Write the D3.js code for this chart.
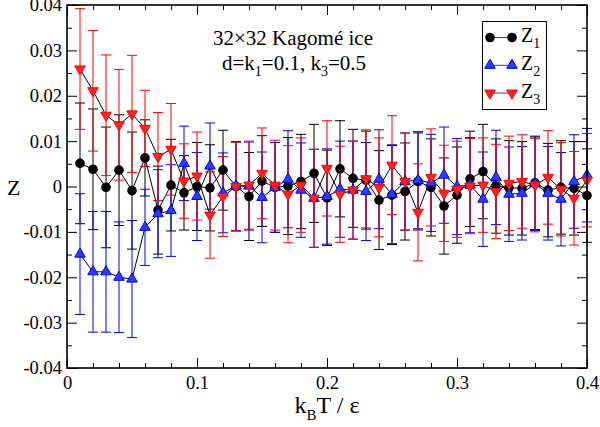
<!DOCTYPE html>
<html><head><meta charset="utf-8">
<script src="https://cdn.jsdelivr.net/npm/d3@7"></script>
<style>
body{margin:0;background:#fff}
svg{display:block}
svg text{font-family:'Liberation Serif','Times New Roman',Times,'DejaVu Serif',serif !important;fill:#000}
</style>
</head><body>
<svg id="c" width="600" height="427" font-family="Liberation Serif"></svg>
<script>
// ---- data ----
const temps = [0.01,0.02,0.03,0.04,0.05,0.06,0.07,0.08,0.09,0.10,
               0.11,0.12,0.13,0.14,0.15,0.16,0.17,0.18,0.19,0.20,
               0.21,0.22,0.23,0.24,0.25,0.26,0.27,0.28,0.29,0.30,
               0.31,0.32,0.33,0.34,0.35,0.36,0.37,0.38,0.39,0.40];
const z1 = [0.0051,0.0038,-0.0002,0.0036,-0.0009,0.0063,-0.0052,0.0003,-0.0014,0.0000,
            -0.0003,0.0036,0.0000,-0.0022,0.0012,-0.0002,0.0001,0.0011,0.0029,-0.0025,
            0.0039,0.0018,0.0014,-0.0030,-0.0019,-0.0011,0.0011,-0.0002,-0.0043,-0.0019,
            0.0017,0.0033,0.0001,-0.0003,-0.0004,0.0008,-0.0008,-0.0002,-0.0004,-0.0020];
const z2 = [-0.0149,-0.0188,-0.0188,-0.0200,-0.0204,-0.0090,-0.0060,-0.0053,0.0051,-0.0022,
            0.0045,-0.0014,0.0001,0.0001,-0.0024,-0.0002,0.0016,-0.0008,-0.0026,-0.0022,
            -0.0006,-0.0008,-0.0011,0.0016,-0.0017,0.0011,0.0014,0.0008,0.0025,0.0000,
            0.0003,-0.0028,0.0020,-0.0017,-0.0015,0.0006,-0.0015,-0.0028,0.0011,0.0025];
const z3 = [0.0259,0.0211,0.0157,0.0136,0.0160,0.0128,0.0066,0.0082,0.0012,0.0023,
            -0.0063,-0.0022,0.0000,0.0003,0.0029,0.0003,-0.0017,0.0003,-0.0026,0.0040,
            -0.0017,-0.0008,0.0017,-0.0002,0.0047,0.0011,-0.0057,0.0020,-0.0015,-0.0006,
            0.0001,0.0003,-0.0011,0.0007,0.0011,0.0003,0.0020,-0.0006,-0.0026,0.0014];
const zErr = [0.0133,0.0133,0.0133,0.0122,0.0129,0.0084,0.0097,0.0101,0.0082,0.0097,
              0.0095,0.0088,0.0098,0.0097,0.0100,0.0099,0.0107,0.0104,0.0108,0.0105,
              0.0106,0.0108,0.0108,0.0109,0.0109,0.0107,0.0107,0.0107,0.0106,0.0106,
              0.0105,0.0104,0.0104,0.0104,0.0103,0.0103,0.0103,0.0103,0.0103,0.0103];
const xTicks = [0,0.1,0.2,0.3,0.4];
const xMinor = [0.02,0.04,0.06,0.08,0.12,0.14,0.16,0.18,0.22,0.24,0.26,0.28,0.32,0.34,0.36,0.38];
const yTicks = [-0.04,-0.03,-0.02,-0.01,0,0.01,0.02,0.03,0.04];
const yMinor = [-0.035,-0.025,-0.015,-0.005,0.005,0.015,0.025,0.035];

const seriesList = [
  {name:"1", vals:z1, err:zErr, color:"#000000", fill:"#000000", marker:"circle"},
  {name:"2", vals:z2, err:zErr, color:"#0000ff", fill:"#2a3cff", marker:"up"},
  {name:"3", vals:z3, err:zErr, color:"#ff0000", fill:"#ff2222", marker:"down"}
];

// ---- layout ----
const FONT = "Liberation Serif";
const L=67, R=587, T=5, B=368;
const svg = d3.select("#c");
const x = d3.scaleLinear().domain([0,0.4]).range([L,R]);
const y = d3.scaleLinear().domain([-0.04,0.04]).range([B,T]);

// axes (inward ticks on all sides)
const fx = d => d===0 ? "0" : d.toFixed(1);
const fy = d => Math.abs(d)<1e-9 ? "0" : d.toFixed(2);
function addAxis(gen, tr){
  const g = svg.append("g").attr("transform",tr).call(gen).attr("font-family",FONT);
  g.select(".domain").remove();
  g.selectAll("line").attr("stroke","#000").attr("stroke-width",1);
  return g;
}
const xb = addAxis(d3.axisBottom(x).tickValues(xTicks).tickSize(-10).tickPadding(8).tickFormat(fx), `translate(0,${B})`);
xb.selectAll("text").attr("font-size",18.5).attr("font-family",FONT);
addAxis(d3.axisBottom(x).tickValues(xMinor).tickSize(-5).tickFormat(""), `translate(0,${B})`);
addAxis(d3.axisTop(x).tickValues(xTicks).tickSize(-10).tickFormat(""), `translate(0,${T})`);
addAxis(d3.axisTop(x).tickValues(xMinor).tickSize(-5).tickFormat(""), `translate(0,${T})`);
const yl = addAxis(d3.axisLeft(y).tickValues(yTicks).tickSize(-10).tickPadding(5).tickFormat(fy), `translate(${L},0)`);
yl.selectAll("text").attr("font-size",18.5).attr("font-family",FONT);
addAxis(d3.axisLeft(y).tickValues(yMinor).tickSize(-5).tickFormat(""), `translate(${L},0)`);
addAxis(d3.axisRight(y).tickValues(yTicks).tickSize(-10).tickFormat(""), `translate(${R},0)`);
addAxis(d3.axisRight(y).tickValues(yMinor).tickSize(-5).tickFormat(""), `translate(${R},0)`);

// error bars
const cap = 5;
seriesList.forEach(s=>{
  const g = svg.append("g").attr("stroke",s.color).attr("stroke-width",1).attr("fill","none");
  temps.forEach((t,i)=>{
    const xp = x(t), y1 = y(s.vals[i]+s.err[i]), y0 = y(s.vals[i]-s.err[i]);
    g.append("line").attr("x1",xp).attr("x2",xp).attr("y1",y1).attr("y2",y0);
    g.append("line").attr("x1",xp-cap).attr("x2",xp+cap).attr("y1",y1).attr("y2",y1);
    g.append("line").attr("x1",xp-cap).attr("x2",xp+cap).attr("y1",y0).attr("y2",y0);
  });
});

// connecting lines
const line = d3.line().x((d,i)=>x(temps[i])).y(d=>y(d));
seriesList.forEach(s=>{
  svg.append("path").attr("d",line(s.vals)).attr("fill","none").attr("stroke","#000").attr("stroke-width",1);
});

// markers
const triUp = d3.symbol().type(d3.symbolTriangle).size(48);
function drawMarker(g, type, cx, cy, s){
  if(type==="circle"){
    g.append("circle").attr("cx",cx).attr("cy",cy).attr("r",4.8).attr("fill",s.fill);
  } else {
    g.append("path").attr("d",triUp())
      .attr("transform",`translate(${cx},${cy})${type==="down"?" rotate(180)":""}`)
      .attr("fill",s.fill).attr("stroke",s.color).attr("stroke-width",1);
  }
}
seriesList.forEach(s=>{
  const g = svg.append("g");
  temps.forEach((t,i)=> drawMarker(g, s.marker, x(t), y(s.vals[i]), s));
});

// frame
svg.append("rect").attr("x",L).attr("y",T).attr("width",R-L).attr("height",B-T)
  .attr("fill","none").attr("stroke","#000").attr("stroke-width",1.6);

// axis labels
svg.append("text").attr("x",7).attr("y",195).attr("font-size",22).attr("font-family",FONT).text("Z");
const xl = svg.append("text").attr("x",x(0.2)).attr("y",412.5).attr("text-anchor","middle").attr("font-size",24).attr("font-family",FONT);
xl.append("tspan").text("k");
xl.append("tspan").attr("font-size",15).attr("dy",7).text("B");
xl.append("tspan").attr("dy",-7).text("T / ε");

// annotation
svg.append("text").attr("x",293).attr("y",45).attr("text-anchor","middle").attr("font-size",21).attr("font-family",FONT).text("32×32 Kagomé ice");
const an = svg.append("text").attr("x",294).attr("y",70).attr("text-anchor","middle").attr("font-size",21).attr("font-family",FONT);
an.append("tspan").text("d=k");
an.append("tspan").attr("font-size",14).attr("dy",6).text("1");
an.append("tspan").attr("dy",-6).text("=0.1, k");
an.append("tspan").attr("font-size",14).attr("dy",6).text("3");
an.append("tspan").attr("dy",-6).text("=0.5");

// legend
svg.append("rect").attr("x",482.5).attr("y",21.5).attr("width",64).attr("height",88)
  .attr("fill","#fff").attr("stroke","#000").attr("stroke-width",1);
seriesList.forEach((s,k)=>{
  const cy = 37.5 + k*27.8;
  const g = svg.append("g");
  g.append("line").attr("x1",490).attr("x2",512).attr("y1",cy).attr("y2",cy).attr("stroke","#444").attr("stroke-width",1);
  drawMarker(g, s.marker, 490, cy, s);
  drawMarker(g, s.marker, 512, cy, s);
  const tx = g.append("text").attr("x",521).attr("y",cy+4.5).attr("font-size",20).attr("font-family",FONT);
  tx.append("tspan").text("Z");
  tx.append("tspan").attr("font-size",14).attr("dy",6).text(s.name);
});
</script>
</body></html>
